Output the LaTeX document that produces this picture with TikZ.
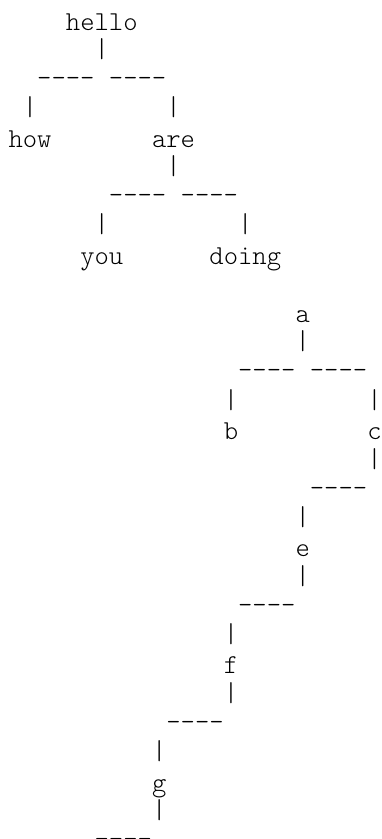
\documentclass[tikz,border=0pt]{standalone}
\usepackage{fontspec}
\newfontfamily\asciifont{lmmonolt10-regular.otf}
\usepackage{tikz}
\tikzset{
  ascii/.style={font=\asciifont\fontsize{27.3}{29}\selectfont, inner sep=0pt, anchor=base},
  treeword/.style={ascii},
  treebar/.style={ascii, yshift=2pt},
  treedash/.style={ascii, text height=9.6pt, text depth=-7pt, yshift=2.3pt}
}
\begin{document}
\begin{tikzpicture}
    \useasboundingbox (0,0) rectangle (382pt,-839pt);
    \begin{scope}[shift={(8.5pt,-30pt)}, x=14.35pt, y=-29.27pt]
        % --- First tree (hello) ---
        \node[treeword] (hello) at (6.5, 0) {hello};
        \node[treebar] (hellobar) at (6.5, 1) {|};
        \node[treedash] (helloleft) at (4, 2) {----};
        \node[treedash] (helloright) at (9, 2) {----};
        \node[treebar] (howbar) at (1.5, 3) {|};
        \node[treebar] (arebar) at (11.5, 3) {|};
        \node[treeword] (how) at (1.5, 4) {how};
        \node[treeword] (are) at (11.5, 4) {are};
        \node[treebar] (aredown) at (11.5, 5) {|};
        \node[treedash] (areleft) at (9, 6) {----};
        \node[treedash] (areright) at (14, 6) {----};
        \node[treebar] (youbar) at (6.5, 7) {|};
        \node[treebar] (doingbar) at (16.5, 7) {|};
        \node[treeword] (you) at (6.5, 8) {you};
        \node[treeword] (doing) at (16.5, 8) {doing};

        % --- Second tree (a) ---
        \node[treeword] (a) at (20.5, 10) {a};
        \node[treebar] (abar) at (20.5, 11) {|};
        \node[treedash] (aleft) at (18, 12) {----};
        \node[treedash] (aright) at (23, 12) {----};
        \node[treebar] (bbar) at (15.5, 13) {|};
        \node[treebar] (cbar) at (25.5, 13) {|};
        \node[treeword] (b) at (15.5, 14) {b};
        \node[treeword] (c) at (25.5, 14) {c};
        \node[treebar] (cdown) at (25.5, 15) {|};
        \node[treedash] (cleft) at (23, 16) {----};
        \node[treebar] (ebar) at (20.5, 17) {|};
        \node[treeword] (e) at (20.5, 18) {e};
        \node[treebar] (edown) at (20.5, 19) {|};
        \node[treedash] (eleft) at (18, 20) {----};
        \node[treebar] (fbar) at (15.5, 21) {|};
        \node[treeword] (f) at (15.5, 22) {f};
        \node[treebar] (fdown) at (15.5, 23) {|};
        \node[treedash] (fleft) at (13, 24) {----};
        \node[treebar] (gbar) at (10.5, 25) {|};
        \node[treeword] (g) at (10.5, 26) {g};
        \node[treebar] (gdown) at (10.5, 27) {|};
        \node[treedash] (gleft) at (8, 28) {----};
    \end{scope}
\end{tikzpicture}
\end{document}
